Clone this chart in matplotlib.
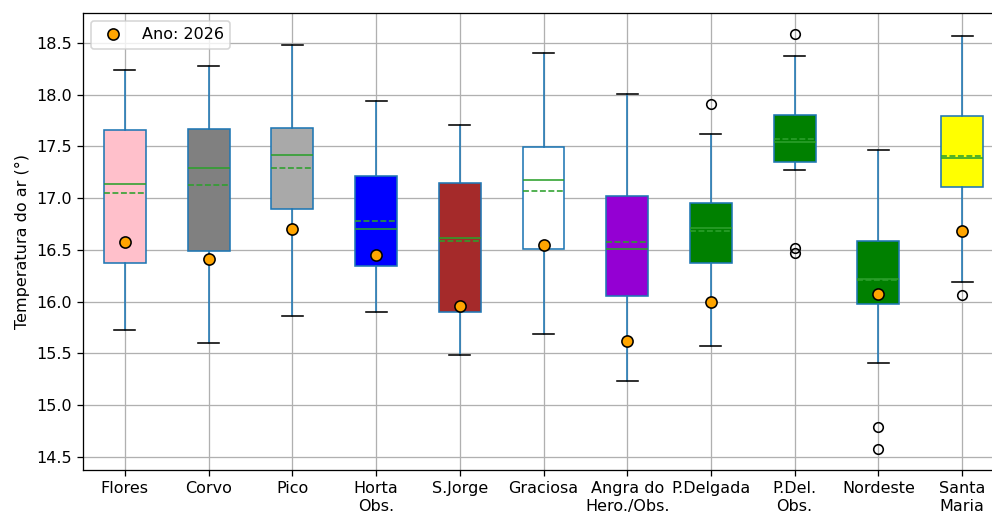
import numpy as np
import matplotlib
matplotlib.use("Agg")
import matplotlib.pyplot as plt

# Station names and annual air temperature statistics (°C)
stations = ["Flores", "Corvo", "Pico", "Horta\nObs.", "S.Jorge", "Graciosa",
            "Angra do\nHero./Obs.", "P.Delgada", "P.Del.\nObs.", "Nordeste", "Santa\nMaria"]
whis_low = [15.73, 15.60, 15.865, 15.90, 15.48, 15.69, 15.23, 15.567, 17.273, 15.403, 16.19]
q1 = [16.37, 16.49, 16.89, 16.345, 15.90, 16.505, 16.055, 16.375, 17.353, 15.98, 17.105]
median = [17.14, 17.29, 17.415, 16.70, 16.618, 17.17, 16.505, 16.715, 17.539, 16.215, 17.385]
mean = [17.045, 17.13, 17.295, 16.775, 16.59, 17.067, 16.575, 16.68, 17.568, 16.205, 17.404]
q3 = [17.655, 17.665, 17.675, 17.21, 17.148, 17.49, 17.02, 16.95, 17.806, 16.585, 17.796]
whis_high = [18.24, 18.28, 18.48, 17.935, 17.71, 18.40, 18.01, 17.62, 18.37, 17.466, 18.565]
outliers = [[], [], [], [], [], [], [], [17.91], [18.587, 16.52, 16.473], [14.786, 14.574], [16.06]]
year_2026 = [16.58, 16.415, 16.70, 16.45, 15.955, 16.55, 15.615, 15.997, np.nan, 16.07, 16.68]
box_colors = ["pink", "gray", "darkgray", "blue", "brown", "white",
              "darkviolet", "green", "green", "green", "yellow"]

dpi = 115
fig = plt.figure(figsize=(993 / dpi, 515 / dpi), dpi=dpi)
ax = fig.add_axes([83 / 993, 1 - 470 / 515, (1004 - 83) / 993, (470 - 13) / 515])

stats = [dict(label=s, whislo=wl, q1=a, med=m, mean=mu, q3=b, whishi=wh, fliers=f)
         for s, wl, a, m, mu, b, wh, f in zip(stations, whis_low, q1, median, mean,
                                              q3, whis_high, outliers)]
positions = np.arange(1, len(stations) + 1)

bp = ax.bxp(stats, positions=positions, widths=0.5, patch_artist=True,
            showmeans=True, meanline=True,
            boxprops=dict(edgecolor="#1f77b4", linewidth=1.0),
            whiskerprops=dict(color="#1f77b4"),
            capprops=dict(color="black"),
            medianprops=dict(color="#2ca02c"),
            meanprops=dict(color="#2ca02c", linestyle="--"),
            flierprops=dict(marker="o", markerfacecolor="none", markeredgecolor="black"))
for patch, c in zip(bp["boxes"], box_colors):
    patch.set_facecolor(c)

ax.plot(positions, year_2026, "o", linestyle="none", color="orange",
        markeredgecolor="black", markersize=7, label="Ano: 2026", zorder=3)

ax.grid(True)
ax.set_ylabel("Temperatura do ar (°)")
ax.legend(loc="upper left")

fig.savefig("out.png", dpi=dpi)
